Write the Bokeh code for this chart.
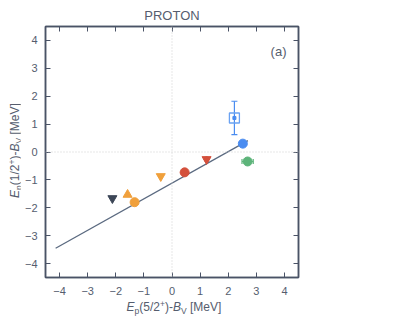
from bokeh.plotting import figure
from bokeh.models import (Range1d, FixedTicker, LinearAxis, Span, Label, Whisker,
                          TeeHead, ColumnDataSource, CustomJSTickFormatter, Div)
from bokeh.layouts import row, column
from bokeh.embed import file_html
from bokeh.resources import INLINE

# ---------------- data ----------------
tick_values = [-4, -3, -2, -1, 0, 1, 2, 3, 4]

fit_x = [-4.14, 2.70]
fit_y = [-3.45, 0.41]

dark_dn_x, dark_dn_y = [-2.12], [-1.66]
orange_up_x, orange_up_y = [-1.58], [-1.53]
orange_circ_x, orange_circ_y = [-1.33], [-1.80]
orange_dn_x, orange_dn_y = [-0.40], [-0.87]
red_circ_x, red_circ_y = [0.45], [-0.73]
red_circ_err = [0.10]
red_dn_x, red_dn_y = [1.23], [-0.26]
blue_circ_x, blue_circ_y = [2.52], [0.30]
green_circ_x, green_circ_y = [2.69], [-0.34]
green_xerr = [0.20]
blue_sq_x, blue_sq_y = [2.22], [1.22]
blue_sq_yerr = [0.60]

title_text = "PROTON"
panel_text = "(a)"
x_label_html = ('<i>E</i><sub>p</sub>(5/2<sup>+</sup>)-<i>B</i><sub>V</sub> [MeV]')
y_label_html = ('<i>E</i><sub>p</sub>(1/2<sup>+</sup>)-<i>B</i><sub>V</sub> [MeV]')

# ---------------- layout ----------------
YLAB_W = 20
XLAB_H = 22
FL, FR, FT, FB = 45, 298, 26, 277          # frame in page pixels
BORDER_BOTTOM = 22
P_H = FB + BORDER_BOTTOM
XMIN, XMAX, YMIN, YMAX = -4.5, 4.5, -4.5, 4.5

AXC = "#4a5366"
TXT = "#555d6e"
FONT = "Liberation Sans"

p = figure(frame_width=FR - FL, frame_height=FB - FT,
           min_border_left=FL - YLAB_W, min_border_top=FT,
           min_border_right=80, min_border_bottom=BORDER_BOTTOM,
           x_range=Range1d(XMIN, XMAX), y_range=Range1d(YMIN, YMAX),
           output_backend="svg", toolbar_location=None,
           background_fill_color="white", border_fill_color="white")

p.title.text = title_text
p.title.align = "center"
p.title.text_font = FONT
p.title.text_font_size = "13px"
p.title.text_font_style = "normal"
p.title.text_color = TXT
p.title.standoff = 8

p.xgrid.visible = False
p.ygrid.visible = False
p.outline_line_color = AXC
p.outline_line_width = 1.5


def style_axis(ax, show_labels, standoff):
    ax.ticker = FixedTicker(ticks=tick_values)
    ax.major_tick_in = 5
    ax.major_tick_out = 0
    ax.minor_tick_line_color = None
    ax.major_tick_line_color = AXC
    ax.major_tick_line_width = 1
    ax.axis_line_color = AXC
    ax.axis_line_width = 1.5
    ax.major_label_text_font = FONT
    ax.major_label_text_font_size = "11px"
    ax.major_label_text_color = TXT
    ax.major_label_standoff = standoff
    if not show_labels:
        ax.formatter = CustomJSTickFormatter(code="return ''")
        ax.major_label_text_font_size = "1px"


style_axis(p.xaxis[0], True, 9)
style_axis(p.yaxis[0], True, 8)
rax = LinearAxis()
style_axis(rax, False, 0)
p.add_layout(rax, "right")
tax = LinearAxis()
style_axis(tax, False, 0)
p.add_layout(tax, "above")

for dim in ("width", "height"):
    p.add_layout(Span(location=0, dimension=dim, line_color="#cfcfcf",
                      line_dash="1 2", line_width=1))

p.line(fit_x, fit_y, line_color="#5b6a80", line_width=1.3)

BLUE = "#4a8cf0"
GREEN = "#5db47a"
RED = "#d4503c"
ORANGE = "#f0a03c"
DARK = "#3c4657"

src_sq = ColumnDataSource(dict(x=blue_sq_x,
                               lo=[y - e for y, e in zip(blue_sq_y, blue_sq_yerr)],
                               hi=[y + e for y, e in zip(blue_sq_y, blue_sq_yerr)]))
p.add_layout(Whisker(source=src_sq, base="x", lower="lo", upper="hi", dimension="height",
                     line_color=BLUE, line_width=1.2,
                     upper_head=TeeHead(size=6, line_color=BLUE, line_width=1.2),
                     lower_head=TeeHead(size=6, line_color=BLUE, line_width=1.2)))
src_g = ColumnDataSource(dict(y=green_circ_y,
                              lo=[x - e for x, e in zip(green_circ_x, green_xerr)],
                              hi=[x + e for x, e in zip(green_circ_x, green_xerr)]))
p.add_layout(Whisker(source=src_g, base="y", lower="lo", upper="hi", dimension="width",
                     line_color=GREEN, line_width=1.2,
                     upper_head=TeeHead(size=5, line_color=GREEN, line_width=1.2),
                     lower_head=TeeHead(size=5, line_color=GREEN, line_width=1.2)))
src_r = ColumnDataSource(dict(x=red_circ_x,
                              lo=[y - e for y, e in zip(red_circ_y, red_circ_err)],
                              hi=[y + e for y, e in zip(red_circ_y, red_circ_err)]))
p.add_layout(Whisker(source=src_r, base="x", lower="lo", upper="hi", dimension="height",
                     line_color=RED, line_width=1.2,
                     upper_head=TeeHead(size=3, line_color=RED, line_width=1.2),
                     lower_head=TeeHead(size=3, line_color=RED, line_width=1.2)))

p.scatter(dark_dn_x, dark_dn_y, marker="inverted_triangle", size=9, color=DARK)
p.scatter(orange_up_x, orange_up_y, marker="triangle", size=9, color=ORANGE)
p.scatter(orange_circ_x, orange_circ_y, marker="circle", size=9, color=ORANGE)
p.scatter(orange_dn_x, orange_dn_y, marker="inverted_triangle", size=9, color=ORANGE)
p.scatter(red_circ_x, red_circ_y, marker="circle", size=9, color=RED)
p.scatter(red_dn_x, red_dn_y, marker="inverted_triangle", size=9, color=RED)
p.scatter(red_dn_x, red_dn_y, marker="circle", size=5, color=RED)
p.scatter(blue_circ_x, blue_circ_y, marker="circle", size=9, color=BLUE)
p.scatter(green_circ_x, green_circ_y, marker="circle", size=9, color=GREEN)
p.scatter(blue_sq_x, blue_sq_y, marker="square", size=10, fill_color=None,
          line_color="#6aa2f2", line_width=1.3)
p.scatter(blue_sq_x, blue_sq_y, marker="square", size=3, color=BLUE)

p.add_layout(Label(x=286 - FL, y=FB - 50.5, x_units="screen", y_units="screen",
                   text=panel_text, text_align="right", text_baseline="alphabetic",
                   text_font=FONT, text_font_size="13px", text_color=TXT))

SUBSUP = ('<style>sub{font-size:8.5px;vertical-align:-3px;line-height:0}'
          'sup{font-size:8.5px;vertical-align:4.5px;line-height:0}</style>')
INNER = ('font-family:\'Liberation Sans\';font-size:12px;line-height:1;color:%s;'
         'white-space:nowrap;position:absolute;' % TXT)

y_div = Div(width=YLAB_W, height=P_H, margin=0,
            text=(SUBSUP + '<div style="position:relative;width:%dpx;height:%dpx">'
                  '<div style="%sleft:8.5px;top:198px;transform:rotate(-90deg);'
                  'transform-origin:0 0">%s</div></div>' % (YLAB_W, P_H, INNER, y_label_html)))

x_div = Div(width=FR + 20, height=XLAB_H, margin=0,
            text=(SUBSUP + '<div style="position:relative;width:%dpx;height:%dpx">'
                  '<div style="%sleft:126.5px;top:2.3px">%s</div></div>'
                  % (FR + 20, XLAB_H, INNER, x_label_html)))

layout = column(row(y_div, p, spacing=0), x_div, spacing=0)

open("out.html", "w").write(file_html(layout, INLINE))
